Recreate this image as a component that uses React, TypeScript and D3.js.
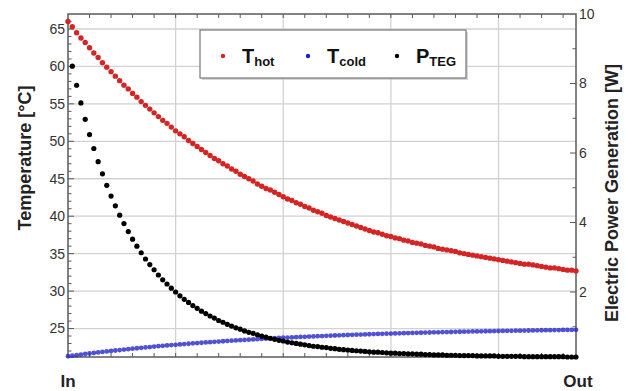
import React from "react";
import * as d3 from "d3";

// Positions along the module (In -> Out), one sample every 0.04 units
const STEP = 0.04;
const X_MAX = 4.72;

const T_HOT = [
  66.0, 65.3, 64.5, 63.8, 63.2, 62.5, 61.8, 61.2, 60.5, 59.9,
  59.3, 58.7, 58.1, 57.5, 57.0, 56.4, 55.9, 55.3, 54.8, 54.3,
  53.8, 53.3, 52.8, 52.4, 51.9, 51.4, 51.0, 50.6, 50.1, 49.7,
  49.3, 48.9, 48.5, 48.1, 47.7, 47.4, 47.0, 46.7, 46.3, 46.0,
  45.6, 45.3, 45.0, 44.7, 44.3, 44.0, 43.7, 43.5, 43.2, 42.9,
  42.6, 42.3, 42.1, 41.8, 41.6, 41.3, 41.1, 40.8, 40.6, 40.4,
  40.1, 39.9, 39.7, 39.5, 39.3, 39.1, 38.9, 38.7, 38.5, 38.3,
  38.1, 37.9, 37.8, 37.6, 37.4, 37.3, 37.1, 37.0, 36.8, 36.7,
  36.5, 36.4, 36.3, 36.1, 36.0, 35.9, 35.7, 35.6, 35.5, 35.4,
  35.3, 35.1, 35.0, 34.9, 34.8, 34.7, 34.6, 34.5, 34.4, 34.3,
  34.2, 34.1, 34.0, 33.9, 33.8, 33.7, 33.6, 33.6, 33.5, 33.4,
  33.3, 33.2, 33.1, 33.1, 33.0, 32.9, 32.8, 32.8, 32.7,
];

const T_COLD = [
  21.30, 21.38, 21.45, 21.53, 21.60, 21.67, 21.74, 21.81, 21.88, 21.94,
  22.01, 22.07, 22.13, 22.19, 22.25, 22.31, 22.37, 22.42, 22.48, 22.53,
  22.59, 22.64, 22.69, 22.74, 22.79, 22.83, 22.88, 22.93, 22.97, 23.02,
  23.06, 23.10, 23.14, 23.18, 23.22, 23.26, 23.30, 23.34, 23.38, 23.41,
  23.45, 23.48, 23.52, 23.55, 23.58, 23.61, 23.65, 23.68, 23.71, 23.74,
  23.77, 23.79, 23.82, 23.85, 23.88, 23.90, 23.93, 23.95, 23.98, 24.00,
  24.03, 24.05, 24.07, 24.09, 24.12, 24.14, 24.16, 24.18, 24.20, 24.22,
  24.24, 24.26, 24.28, 24.29, 24.31, 24.33, 24.35, 24.36, 24.38, 24.40,
  24.41, 24.43, 24.44, 24.46, 24.47, 24.49, 24.50, 24.52, 24.53, 24.54,
  24.56, 24.57, 24.58, 24.59, 24.61, 24.62, 24.63, 24.64, 24.65, 24.66,
  24.67, 24.68, 24.69, 24.70, 24.71, 24.72, 24.73, 24.74, 24.75, 24.76,
  24.77, 24.78, 24.78, 24.79, 24.80, 24.81, 24.82, 24.82, 24.83,
];

// P_TEG starts at the second sample (index 1)
const P_TEG_START = 1;
const P_TEG = [
  8.50, 7.95, 7.44, 6.97, 6.53, 6.13, 5.75, 5.40, 5.07, 4.76,
  4.48, 4.21, 3.97, 3.74, 3.52, 3.32, 3.13, 2.95, 2.79, 2.64,
  2.49, 2.35, 2.23, 2.11, 2.00, 1.89, 1.79, 1.70, 1.61, 1.53,
  1.45, 1.38, 1.31, 1.25, 1.18, 1.13, 1.07, 1.02, 0.97, 0.93,
  0.88, 0.84, 0.81, 0.77, 0.73, 0.70, 0.67, 0.64, 0.61, 0.59,
  0.56, 0.54, 0.52, 0.50, 0.48, 0.46, 0.44, 0.43, 0.41, 0.40,
  0.38, 0.37, 0.35, 0.34, 0.33, 0.32, 0.31, 0.30, 0.29, 0.28,
  0.27, 0.27, 0.26, 0.25, 0.24, 0.24, 0.23, 0.23, 0.22, 0.22,
  0.21, 0.21, 0.20, 0.20, 0.19, 0.19, 0.19, 0.18, 0.18, 0.18,
  0.17, 0.17, 0.17, 0.17, 0.16, 0.16, 0.16, 0.16, 0.16, 0.15,
  0.15, 0.15, 0.15, 0.15, 0.15, 0.14, 0.14, 0.14, 0.14, 0.14,
  0.14, 0.14, 0.14, 0.14, 0.14, 0.13, 0.13, 0.13,
];

const LEFT_TICKS = [25, 30, 35, 40, 45, 50, 55, 60, 65];
const RIGHT_TICKS = [2, 4, 6, 8, 10];
const X_GRID = [1, 2, 3, 4];
const X_LABELS = ["In", "Out"];
const LEGEND = [
  { main: "T", sub: "hot", color: "#d42424" },
  { main: "T", sub: "cold", color: "#2020c0" },
  { main: "P", sub: "TEG", color: "#000000" },
];

const W = 626;
const H = 391;
const M = { left: 68, right: 576, top: 14, bottom: 357 };

export default function App() {
  const x = d3.scaleLinear().domain([0, X_MAX]).range([M.left, M.right]);
  const yL = d3.scaleLinear().domain([21.2, 67]).range([M.bottom, M.top]);
  const yR = d3.scaleLinear().domain([0.13, 10]).range([M.bottom, M.top]);

  const axisColor = "#5a5a5a";
  const gridColor = "#d2d2d2";
  const font = "Arial, 'Liberation Sans', Helvetica, sans-serif";

  const xMinor = d3.range(0.2, X_MAX, 0.2);
  const leftMinor = d3.range(22, 67, 1);
  const rightMinor = d3.range(1, 10, 1);

  return (
    <svg
      width={W}
      height={H}
      style={{ position: "absolute", left: 0, top: 0, background: "#fff" }}
      fontFamily={font}
    >
      <rect x={0} y={0} width={W} height={H} fill="#fff" />
      {/* grid */}
      {LEFT_TICKS.map((t) => (
        <line key={"gy" + t} x1={M.left} x2={M.right} y1={yL(t)} y2={yL(t)} stroke={gridColor} strokeWidth={1.3} />
      ))}
      {X_GRID.map((t) => (
        <line key={"gx" + t} x1={x(t)} x2={x(t)} y1={M.top} y2={M.bottom} stroke={gridColor} strokeWidth={1.3} />
      ))}

      {/* minor ticks */}
      {xMinor.map((t) => (
        <g key={"xm" + t}>
          <line x1={x(t)} x2={x(t)} y1={M.top} y2={M.top + 4} stroke={axisColor} strokeWidth={1} />
          <line x1={x(t)} x2={x(t)} y1={M.bottom} y2={M.bottom - 4} stroke={axisColor} strokeWidth={1} />
        </g>
      ))}
      {leftMinor.map((t) => (
        <line key={"lm" + t} x1={M.left} x2={M.left + (t % 5 === 0 ? 6 : 3.5)} y1={yL(t)} y2={yL(t)} stroke={axisColor} strokeWidth={1} />
      ))}
      {rightMinor.map((t) => (
        <line key={"rm" + t} x1={M.right} x2={M.right - (t % 2 === 0 ? 6 : 3.5)} y1={yR(t)} y2={yR(t)} stroke={axisColor} strokeWidth={1} />
      ))}

      {/* frame */}
      <rect x={M.left} y={M.top} width={M.right - M.left} height={M.bottom - M.top} fill="none" stroke={axisColor} strokeWidth={1.5} />

      {/* data */}
      <g>
        {T_COLD.map((v, i) => (
          <circle key={"c" + i} cx={x(i * STEP)} cy={yL(v)} r={2.4} fill="#2525c8" fillOpacity={0.8} />
        ))}
        {T_HOT.map((v, i) => (
          <circle key={"h" + i} cx={x(i * STEP)} cy={yL(v)} r={2.7} fill="#d42424" />
        ))}
        {P_TEG.map((v, i) => (
          <circle key={"p" + i} cx={x((i + P_TEG_START) * STEP)} cy={yR(v)} r={2.6} fill="#000" />
        ))}
      </g>

      {/* tick labels */}
      {LEFT_TICKS.map((t) => (
        <text key={"lt" + t} x={M.left - 3} y={yL(t)} dy="0.35em" textAnchor="end" fontSize={14} fill="#333">
          {t}
        </text>
      ))}
      {RIGHT_TICKS.map((t) => (
        <text key={"rt" + t} x={M.right + 3} y={yR(t)} dy="0.35em" textAnchor="start" fontSize={14} fill="#333">
          {t}
        </text>
      ))}

      {/* x labels */}
      <text x={M.left} y={387} textAnchor="middle" fontSize={17} fontWeight="bold" fill="#222">
        {X_LABELS[0]}
      </text>
      <text x={M.right + 2} y={387} textAnchor="middle" fontSize={17} fontWeight="bold" fill="#222">
        {X_LABELS[1]}
      </text>

      {/* axis titles */}
      <text transform={`translate(31,158) rotate(-90)`} textAnchor="middle" fontSize={18} fontWeight="bold" fill="#222">
        Temperature [°C]
      </text>
      <text transform={`translate(618,193) rotate(-90)`} textAnchor="middle" fontSize={18} fontWeight="bold" fill="#222">
        Electric Power Generation [W]
      </text>

      {/* legend */}
      <g>
        <rect x={202} y={32} width={266} height={48} fill="#bbb" opacity={0.6} />
        <rect x={200} y={30} width={266} height={48} fill="#fff" stroke="#777" strokeWidth={1.2} />
        {LEGEND.map((l, i) => {
          const lx = [223, 308, 397][i];
          return (
            <g key={"lg" + i}>
              <circle cx={lx} cy={56} r={2.2} fill={l.color} />
              <text x={lx + 19} y={63} fontSize={20} fontWeight="bold" fill="#111">
                {l.main}
                <tspan fontSize={13} dy={3}>{l.sub}</tspan>
              </text>
            </g>
          );
        })}
      </g>
    </svg>
  );
}
